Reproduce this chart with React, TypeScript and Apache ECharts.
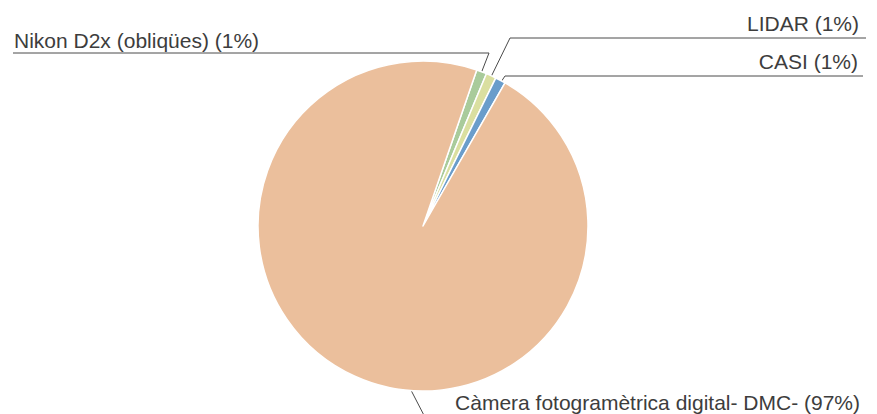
import React, { useEffect, useRef } from "react";
import * as echarts from "echarts";

const categories = [
  "Nikon D2x (obliqües)",
  "LIDAR",
  "CASI",
  "Càmera fotogramètrica digital- DMC-",
];
const values = [1, 1, 1, 97];
const percentLabels = ["1%", "1%", "1%", "97%"];
const colors = ["#A9CB9B", "#DADFA0", "#6A9DCB", "#EBBF9C"];

const W = 877;
const H = 414;
const CX = 423;
const CY = 226;
const R = 165;

// label layout geometry (leader line elbows, line ends, text anchor)
const labelGeom = [
  { elbow: [489, 53], end: [13, 53], tx: 14, ty: 52, align: "left", anchor: null as null | number[] },
  { elbow: [510, 38], end: [866, 38], tx: 859, ty: 35, align: "right", anchor: null as null | number[] },
  { elbow: [505, 76], end: [863, 76], tx: 858, ty: 73.5, align: "right", anchor: null as null | number[] },
  { elbow: [429, 425], end: [862, 425], tx: 860, ty: 414.5, align: "right", anchor: [398, 365] },
];

export default function App() {
  const ref = useRef<HTMLDivElement>(null);
  useEffect(() => {
    if (!ref.current) return;
    const chart = echarts.init(ref.current, null, { renderer: "svg" });
    chart.setOption({
      animation: false,
      backgroundColor: "#ffffff",
      series: [
        {
          type: "pie",
          center: [CX, CY],
          radius: R,
          startAngle: 71,
          clockwise: true,
          avoidLabelOverlap: false,
          itemStyle: { borderColor: "#ffffff", borderWidth: 1.5 },
          label: {
            show: true,
            position: "outside",
            color: "#3d3d3d",
            fontFamily: "Liberation Sans",
            fontSize: 21,
            lineHeight: 24,
            formatter: (p: any) => `${p.name} (${percentLabels[p.dataIndex]})`,
          },
          labelLine: {
            show: true,
            smooth: false,
            length: 10,
            length2: 10,
            lineStyle: { color: "#4a4a4a", width: 1 },
          },
          labelLayout: (params: any) => {
            const g = labelGeom[params.dataIndex];
            let start: number[];
            if (g.anchor) {
              start = g.anchor;
            } else {
              const p0 = params.labelLinePoints ? params.labelLinePoints[0] : [CX, CY - R];
              start = [CX + (p0[0] - CX) * 0.92, CY + (p0[1] - CY) * 0.92];
            }
            return {
              x: g.tx,
              y: g.ty,
              align: g.align,
              verticalAlign: "bottom",
              labelLinePoints: [start, g.elbow, g.end],
            };
          },
          data: categories.map((name, i) => ({
            name,
            value: values[i],
            itemStyle: { color: colors[i] },
          })),
        },
      ],
    });
    return () => chart.dispose();
  }, []);
  return (
    <div
      ref={ref}
      style={{ position: "fixed", left: 0, top: 0, width: W, height: H }}
    />
  );
}
